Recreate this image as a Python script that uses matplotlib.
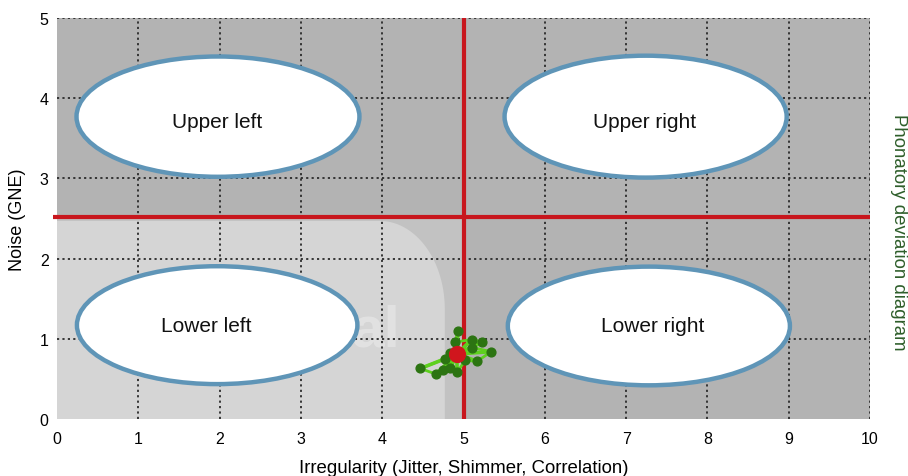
import numpy as np
import matplotlib
matplotlib.use("Agg")
import matplotlib.pyplot as plt
from matplotlib.patches import Ellipse, Rectangle, PathPatch
from matplotlib.path import Path

plt.rcParams['font.family'] = ['Liberation Sans', 'DejaVu Sans']

# ---- data ----
x_ticks = [0, 1, 2, 3, 4, 5, 6, 7, 8, 9, 10]
y_ticks = [0, 1, 2, 3, 4, 5]
region_names = ["Upper left", "Upper right", "Lower left", "Lower right"]
region_cx = [1.98, 7.24, 1.97, 7.28]
region_cy = [3.77, 3.77, 1.17, 1.16]
region_w = [3.48, 3.47, 3.45, 3.47]
region_h = [1.50, 1.52, 1.47, 1.48]
label_x = [1.97, 7.23, 1.84, 7.33]
label_y = [3.71, 3.71, 1.16, 1.16]
thresh_x = 5.0
thresh_y = 2.52
center_pt = (4.92, 0.81)
pts_x = [4.93, 4.90, 5.10, 5.23, 5.11, 5.34, 5.17, 5.02, 4.92, 4.84, 4.75, 4.66, 4.47, 4.77, 4.83]
pts_y = [1.10, 0.96, 0.99, 0.96, 0.89, 0.84, 0.72, 0.73, 0.58, 0.64, 0.61, 0.56, 0.63, 0.75, 0.82]

fig = plt.figure(figsize=(9.08, 4.77), dpi=100)
ax = fig.add_axes([57/908, 57/477, 813/908, 401/477])
ax.set_xlim(0, 10)
ax.set_ylim(0, 5)

# backgrounds
ax.add_patch(Rectangle((0, 0), 10, 5, facecolor='#b3b3b3', edgecolor='none', zorder=0))
ax.add_patch(Rectangle((0, 0), 5, 2.5, facecolor='#c2c2c2', edgecolor='none', zorder=0.1))
# light rounded region (lower-left)
rw, rh = 4.77, 2.47
rx, ry = 0.8, 1.1
t = np.linspace(np.pi/2, 0, 30)
arc_x = (rw - rx) + rx*np.cos(t)
arc_y = (rh - ry) + ry*np.sin(t)
verts = [(0, 0), (0, rh)] + list(zip(arc_x, arc_y)) + [(rw, 0), (0, 0)]
ax.add_patch(PathPatch(Path(verts), facecolor='#d5d5d5', edgecolor='none', zorder=0.2))
ax.text(4.22, 1.1, "al", fontsize=42, color='white', alpha=0.3, ha='right',
        va='center', zorder=0.3, fontweight='bold')

# grid
for xv in x_ticks[1:]:
    ax.plot([xv, xv], [0, 5], color='#2a2a2a', lw=1.3, ls=(0, (1.2, 1.8)), zorder=0.5)
for yv in y_ticks[1:]:
    ax.plot([0, 10], [yv, yv], color='#2a2a2a', lw=1.3, ls=(0, (1.2, 1.8)), zorder=0.5)

# ellipses
for cx, cy, w, h in zip(region_cx, region_cy, region_w, region_h):
    ax.add_patch(Ellipse((cx, cy), w, h, facecolor='white', edgecolor='#5f95b7', lw=3.2, zorder=2))
for n, lx, ly in zip(region_names, label_x, label_y):
    ax.text(lx, ly, n, fontsize=15, ha='center', va='center', color='#111111', zorder=3)

# threshold lines
ax.plot([thresh_x, thresh_x], [0, 5], color='#c8161d', lw=3, zorder=4, clip_on=False, solid_capstyle='butt')
ax.plot([-0.05, 10], [thresh_y, thresh_y], color='#c8161d', lw=3, zorder=4, clip_on=False, solid_capstyle='butt')

# cluster
for px, py in zip(pts_x, pts_y):
    ax.plot([center_pt[0], px], [center_pt[1], py], color='#5ed01e', lw=2.6, zorder=5)
ax.plot(pts_x, pts_y, color='#5ed01e', lw=2.0, zorder=5)
ax.scatter(pts_x, pts_y, s=40, color='#2c7412', zorder=6)
ax.scatter([center_pt[0]], [center_pt[1]], s=130, color='#d0161d', zorder=7)

for s in ax.spines.values():
    s.set_visible(False)
ax.set_xticks(x_ticks)
ax.set_yticks(y_ticks)
ax.tick_params(axis='x', length=0, labelsize=11.5, pad=9)
ax.tick_params(axis='y', length=0, labelsize=11.5, pad=6)
ax.set_xlabel("Irregularity (Jitter, Shimmer, Correlation)", fontsize=13.4, labelpad=9)
ax.set_ylabel("Noise (GNE)", fontsize=13, labelpad=10)
fig.text(898/908, 1 - 232/477, "Phonatory deviation diagram", rotation=-90, color='#2e5e2a',
         fontsize=13.4, ha='center', va='center')

fig.savefig("out.png", dpi=100)
